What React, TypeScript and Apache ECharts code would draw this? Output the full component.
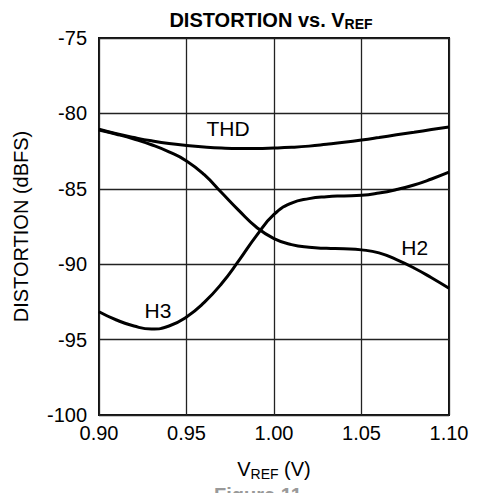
import React, { useEffect, useRef } from "react";
import * as echarts from "echarts";

const vref = [0.9, 0.91, 0.92, 0.93, 0.94, 0.95, 0.96, 0.97, 0.98, 0.99, 1.0, 1.01, 1.02, 1.03, 1.04, 1.05, 1.06, 1.07, 1.08, 1.09, 1.1];
const thd = [-81.05, -81.35, -81.6, -81.82, -82.0, -82.13, -82.23, -82.3, -82.33, -82.33, -82.3, -82.25, -82.17, -82.05, -81.92, -81.77, -81.6, -81.42, -81.25, -81.07, -80.9];
const h2 = [-81.1, -81.38, -81.7, -82.08, -82.55, -83.15, -84.05, -85.25, -86.45, -87.55, -88.3, -88.7, -88.88, -88.95, -88.98, -89.05, -89.25, -89.7, -90.25, -90.9, -91.6];
const h3 = [-93.15, -93.7, -94.1, -94.3, -94.1, -93.5, -92.55, -91.3, -89.75, -88.1, -86.7, -85.95, -85.65, -85.52, -85.47, -85.43, -85.28, -85.05, -84.75, -84.35, -83.9];

const yTicks = [-100, -95, -90, -85, -80, -75];
const xTicks = [0.9, 0.95, 1.0, 1.05, 1.1];

const seriesLabels = [
  { name: "THD", x: 0.9737, y: -81.03 },
  { name: "H3", x: 0.9337, y: -93.1 },
  { name: "H2", x: 1.0804, y: -88.9 },
];

export default function App() {
  const ref = useRef<HTMLDivElement>(null);
  useEffect(() => {
    if (!ref.current) return;
    const chart = echarts.init(ref.current, null, { renderer: "svg" });
    const font = "'Liberation Sans', Arial, sans-serif";
    const mk = (d: number[]) => vref.map((x, i) => [x, d[i]]);
    const lineSeries = (name: string, d: number[]) => ({
      name,
      type: "line",
      data: mk(d),
      smooth: 0.5,
      symbol: "none",
      lineStyle: { color: "#000", width: 3 },
    });
    chart.setOption({
      animation: false,
      backgroundColor: "#fff",
      textStyle: { fontFamily: font },
      title: {
        text: "DISTORTION vs. V{sub|REF}",
        left: 266,
        top: 3,
        textAlign: "center",
        textStyle: {
          fontFamily: font,
          fontSize: 20,
          fontWeight: "bold",
          color: "#000",
          rich: {
            sub: { fontFamily: font, fontSize: 14, fontWeight: "bold", color: "#000", verticalAlign: "bottom", padding: [9, 0, 0, 0] },
          },
        },
      },
      grid: {
        left: 99,
        right: 28,
        top: 38,
        bottom: 78,
        show: true,
        borderColor: "#111",
        borderWidth: 2,
        containLabel: false,
      },
      xAxis: {
        type: "value",
        min: xTicks[0],
        max: xTicks[xTicks.length - 1],
        interval: 0.05,
        axisLine: { show: false },
        axisTick: { show: false },
        axisLabel: {
          fontFamily: font,
          fontSize: 20,
          color: "#000",
          margin: 8,
          formatter: (v: number) => v.toFixed(2),
        },
        splitLine: { show: true, lineStyle: { color: "#222", width: 1.3 } },
        name: "V{sub|REF} (V)",
        nameLocation: "middle",
        nameGap: 42,
        nameTextStyle: {
          fontFamily: font,
          fontSize: 20,
          color: "#000",
          rich: {
            sub: { fontFamily: font, fontSize: 14, color: "#000", padding: [10, 0, 0, 0] },
          },
        },
      },
      yAxis: {
        type: "value",
        min: yTicks[0],
        max: yTicks[yTicks.length - 1],
        interval: 5,
        axisLine: { show: false },
        axisTick: { show: false },
        axisLabel: { fontFamily: font, fontSize: 20, color: "#000", margin: 12 },
        splitLine: { show: true, lineStyle: { color: "#222", width: 1.3 } },
        name: "DISTORTION (dBFS)",
        nameLocation: "middle",
        nameGap: 68,
        nameTextStyle: { fontFamily: font, fontSize: 20, color: "#000" },
      },
      graphic: [
        {
          type: "text",
          left: 214,
          top: 485,
          style: { text: "Figure 11.", fontFamily: font, fontSize: 20, fontWeight: "bold", fill: "#999" },
        },
      ],
      series: [
        {
          ...lineSeries("THD", thd),
          markPoint: {
            symbol: "circle",
            symbolSize: 0,
            label: { show: true, formatter: "{b}", fontFamily: font, fontSize: 21, color: "#000" },
            data: seriesLabels.map((l) => ({ name: l.name, coord: [l.x, l.y] })),
          },
        },
        lineSeries("H2", h2),
        lineSeries("H3", h3),
      ],
    });
    return () => chart.dispose();
  }, []);
  return <div ref={ref} style={{ position: "fixed", left: 0, top: 0, width: 477, height: 493 }} />;
}
